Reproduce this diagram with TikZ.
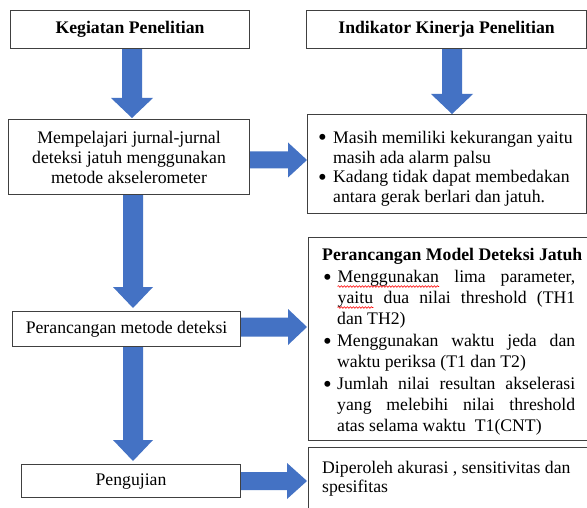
\documentclass[tikz,border=0pt]{standalone}
\usepackage{fontspec}
\setmainfont{Liberation Serif}
\usetikzlibrary{calc,decorations.pathmorphing}
\definecolor{blk}{HTML}{4472C4}
\definecolor{bordergray}{HTML}{404040}
\newcommand\redwave[1]{\tikz[baseline=(w.base),x=1pt,y=1pt]{\node[inner sep=0pt,anchor=base west](w) at (0,0){#1};
  \draw[red, line width=0.6pt, decorate, decoration={snake,amplitude=0.8pt,segment length=3pt}] ([yshift=-3.5pt]w.base west) -- ([yshift=-3.5pt]w.base east);}}
\newcommand\smbullet{\raisebox{-2.2pt}{\scalebox{1.4}{\textbullet}}}
\newcommand\bitem[1]{\par\noindent\hangindent=15pt\hangafter=1\makebox[15pt][l]{\smbullet}#1\par}
\newcommand\jitem[1]{\par\noindent\hangindent=15pt\hangafter=1\rightskip=9pt\relax\makebox[15pt][l]{\hspace{1pt}\smbullet}#1\par}
% block arrows: from, to, x, shaft half, head half, head length, gap
\newcommand\blkdown[7]{%
  \fill[arr] let \p1=(#1.south), \p2=(#2.north) in
  (#3pt-#4pt,\y1) -- (#3pt+#4pt,\y1) -- (#3pt+#4pt,\y2+#7pt+#6pt) -- (#3pt+#5pt,\y2+#7pt+#6pt)
  -- (#3pt,\y2+#7pt) -- (#3pt-#5pt,\y2+#7pt+#6pt) -- (#3pt-#4pt,\y2+#7pt+#6pt) -- cycle;}
\newcommand\blkright[7]{%
  \fill[arr] let \p1=(#1.east), \p2=(#2.west) in
  (\x1,-#3pt+#4pt) -- (\x2-#7pt-#6pt,-#3pt+#4pt) -- (\x2-#7pt-#6pt,-#3pt+#5pt)
  -- (\x2-#7pt,-#3pt) -- (\x2-#7pt-#6pt,-#3pt-#5pt) -- (\x2-#7pt-#6pt,-#3pt-#4pt) -- (\x1,-#3pt-#4pt) -- cycle;}
\hbadness=10000
\begin{document}
\begin{tikzpicture}[x=1pt,y=-1pt,
  box/.style={draw=bordergray, line width=1.1pt, inner sep=0pt, anchor=north west, fill=white},
  arr/.style={fill=blk},
  txt/.style={anchor=base west, inner sep=0pt},
  font=\fontsize{17.7}{20}\selectfont]
\useasboundingbox (0,0) rectangle (587,508);
\clip (0,0) rectangle (587,508);
\fill[white] (0,0) rectangle (587,508);

\node[box, minimum width=239pt, minimum height=38pt] (A) at (10,10) {\bfseries Kegiatan Penelitian};
\node[box, minimum width=280pt, minimum height=38pt] (B) at (306,10) {\bfseries Indikator Kinerja Penelitian};
\node[box, minimum width=241pt, minimum height=75pt, align=center] (C) at (8,119)
  {Mempelajari jurnal-jurnal\\deteksi jatuh menggunakan\\metode akselerometer};
\node[box, minimum width=279pt, minimum height=99pt] (D) at (307,114) {};
\node[box, minimum width=228pt, minimum height=35pt] (E) at (12,311) {Perancangan metode deteksi};
\node[box, minimum width=290pt, minimum height=203pt] (F) at (308,237) {};
\node[box, minimum width=219pt, minimum height=33pt] (G) at (21,464) {Pengujian};
\node[box, minimum width=290pt, minimum height=80pt] (H) at (308,447) {};

\node[txt] (Dt) at ([xshift=11pt,yshift=-29.5pt]D.north west) {\parbox[t]{265pt}{\fontsize{17.7}{19.7}\selectfont\raggedright
  \bitem{Masih memiliki kekurangan yaitu\newline masih ada alarm palsu}
  \bitem{Kadang tidak dapat membedakan\newline antara gerak berlari dan jatuh.}}};

\node[txt] (Ft) at ([xshift=14pt,yshift=-24pt]F.north west) {\parbox[t]{262pt}{\fontsize{17.7}{21}\selectfont\parskip=1pt
  \noindent{\bfseries Perancangan Model Deteksi Jatuh}\par
  \jitem{\redwave{Menggunakan} lima parameter,\linebreak \redwave{yaitu} dua nilai threshold (TH1\linebreak dan TH2)}
  \jitem{Menggunakan waktu jeda dan\linebreak waktu periksa (T1 dan T2)}
  \jitem{Jumlah nilai resultan akselerasi\linebreak yang melebihi nilai threshold\linebreak atas selama waktu\ \ T1(CNT)}}};

\node[txt] (Ht) at ([xshift=14pt,yshift=-26pt]H.north west) {\parbox[t]{265pt}{\fontsize{17.7}{19.5}\selectfont\raggedright
  Diperoleh akurasi , sensitivitas dan\newline spesifitas}};

\blkdown{A}{C}{132}{10}{21}{20}{1}
\blkdown{B}{D}{452}{10}{21}{20}{0}
\blkdown{C}{E}{133}{10}{20}{21}{3}
\blkdown{E}{G}{133}{10}{20}{21}{3}
\blkright{C}{D}{160}{8.5}{17.5}{19}{0}
\blkright{E}{F}{327}{9.5}{18}{19}{1}
\blkright{G}{H}{481}{9}{18}{20}{1}
\end{tikzpicture}
\end{document}
